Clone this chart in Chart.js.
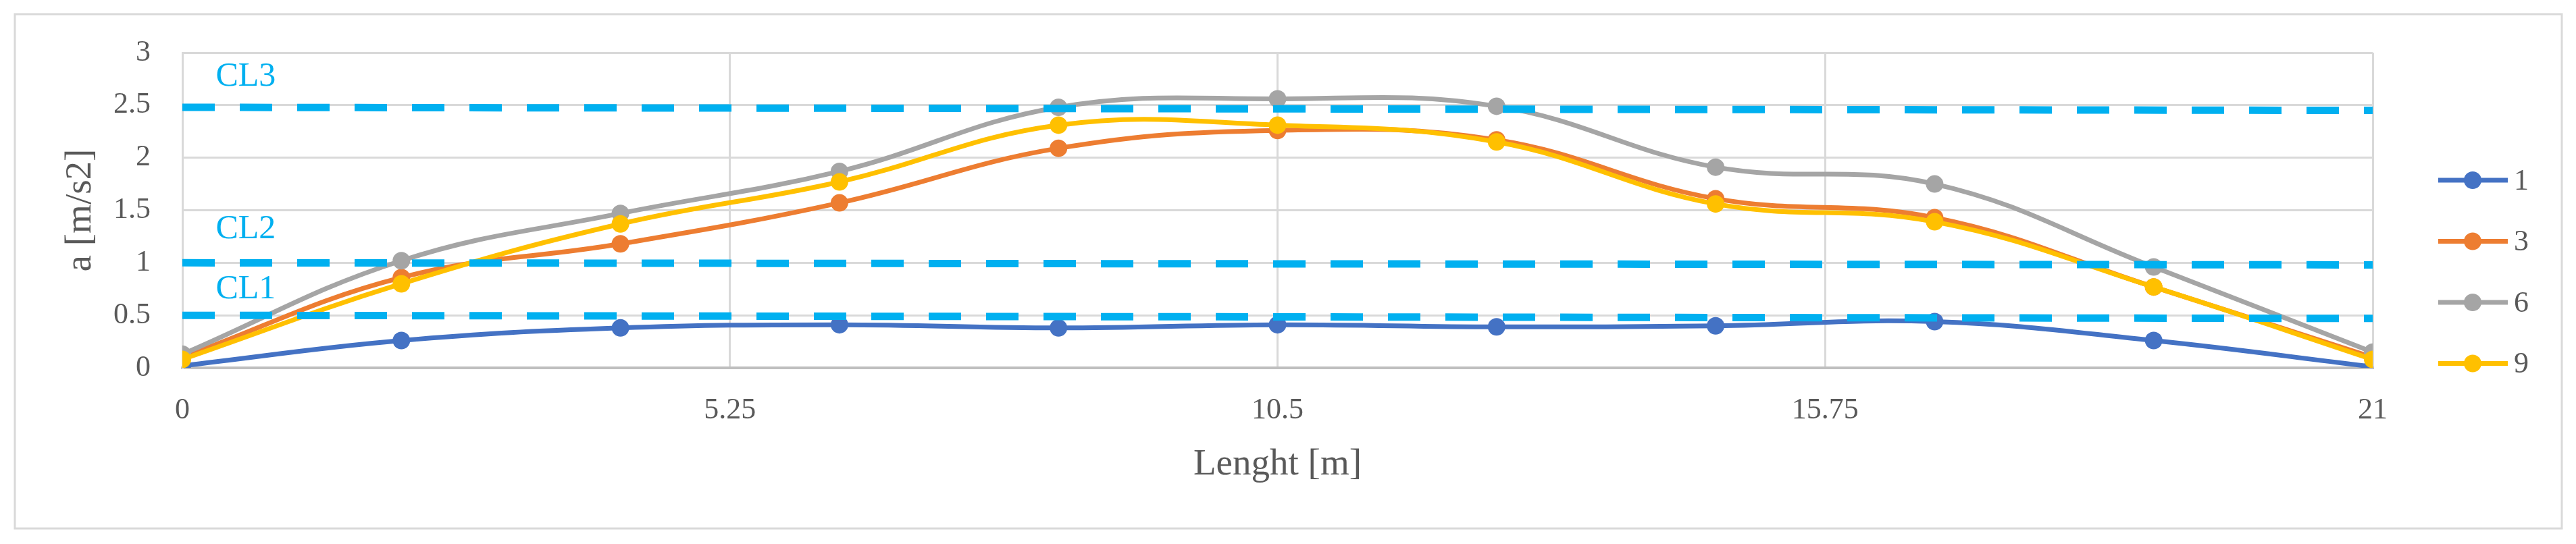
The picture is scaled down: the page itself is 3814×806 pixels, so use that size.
<!DOCTYPE html>
<html>
<head>
<meta charset="utf-8">
<title>a [m/s2] vs Lenght [m]</title>
<script src="https://cdn.jsdelivr.net/npm/chart.js@4/dist/chart.umd.min.js"></script>
<style>
    html, body { margin: 0; padding: 0; background: #ffffff; }
    canvas { display: block; }
</style>
</head>
<body>
<canvas id="chart" width="3814" height="806"></canvas>
<script>
// Measuring positions along the length [m]
const positions = [0, 2.1, 4.2, 6.3, 8.4, 10.5, 12.6, 14.7, 16.8, 18.9, 21];

// Acceleration a [m/s2] for each series
const series1 = [0.02, 0.26, 0.38, 0.41, 0.38, 0.41, 0.39, 0.40, 0.44, 0.26, 0.01];
const series3 = [0.10, 0.86, 1.18, 1.57, 2.09, 2.26, 2.17, 1.61, 1.43, 0.77, 0.10];
const series6 = [0.13, 1.02, 1.47, 1.87, 2.48, 2.56, 2.49, 1.91, 1.75, 0.96, 0.15];
const series9 = [0.08, 0.80, 1.37, 1.77, 2.31, 2.31, 2.15, 1.56, 1.39, 0.77, 0.08];

// Comfort level lines (value at start and end of the length)
const clNames = ['CL1', 'CL2', 'CL3'];
const clStart = [0.50, 1.00, 2.48];
const clEnd = [0.47, 0.98, 2.45];

// Axis ticks
const xTicks = [0, 5.25, 10.5, 15.75, 21];
const yTicks = [0, 0.5, 1, 1.5, 2, 2.5, 3];

const seriesNames = ['1', '3', '6', '9'];
const seriesValues = [series1, series3, series6, series9];
const seriesColors = ['#4472C4', '#ED7D31', '#A5A5A5', '#FFC000'];
const clColor = '#00B0F0';
const textColor = '#595959';
const serif = '"Liberation Serif", "DejaVu Serif", serif';

function toPoints(values) {
    return values.map((v, i) => ({ x: positions[i], y: v }));
}

// plain number labels (5.25 stays 5.25, 3 stays 3)
function plainLabel(value) {
    return String(parseFloat(Number(value).toFixed(2)));
}

const datasets = [];
seriesValues.forEach((values, i) => {
    datasets.push({
        label: seriesNames[i],
        data: toPoints(values),
        showLine: true,
        borderColor: seriesColors[i],
        backgroundColor: seriesColors[i],
        borderWidth: 7,
        pointRadius: 13,
        pointBorderWidth: 0,
        tension: 0.4,
        order: seriesValues.length - i
    });
});
clNames.forEach((name, i) => {
    datasets.push({
        label: name,
        data: [{ x: 0, y: clStart[i] }, { x: 21, y: clEnd[i] }],
        showLine: true,
        borderColor: clColor,
        backgroundColor: clColor,
        borderWidth: 11,
        borderDash: [48, 37],
        borderCapStyle: 'butt',
        pointRadius: 0,
        tension: 0,
        order: 0
    });
});

// white background + light frame around the whole chart
const framePlugin = {
    id: 'frame',
    beforeDraw(chart) {
        const ctx = chart.ctx;
        ctx.save();
        ctx.fillStyle = '#ffffff';
        ctx.fillRect(0, 0, chart.width, chart.height);
        ctx.strokeStyle = '#D9D9D9';
        ctx.lineWidth = 3;
        ctx.strokeRect(22, 21, 3771, 762);
        ctx.restore();
    }
};

// y axis title, placed close to the tick labels like the original
const yTitlePlugin = {
    id: 'yTitle',
    afterDraw(chart) {
        const { ctx, chartArea } = chart;
        ctx.save();
        ctx.translate(120, (chartArea.top + chartArea.bottom) / 2);
        ctx.rotate(-Math.PI / 2);
        ctx.font = '55px ' + serif;
        ctx.fillStyle = textColor;
        ctx.textAlign = 'center';
        ctx.textBaseline = 'middle';
        ctx.fillText('a [m/s2]', 0, 0);
        ctx.restore();
    }
};

// CL1..CL3 text labels above their dashed lines
const clLabelPlugin = {
    id: 'clLabels',
    afterDatasetsDraw(chart) {
        const { ctx, scales: { x, y } } = chart;
        const labelY = [0.745, 1.32, 2.77];
        ctx.save();
        ctx.font = '50px ' + serif;
        ctx.fillStyle = clColor;
        ctx.textAlign = 'left';
        ctx.textBaseline = 'middle';
        clNames.forEach((name, i) => {
            ctx.fillText(name, x.getPixelForValue(0.32), y.getPixelForValue(labelY[i]));
        });
        ctx.restore();
    }
};

// legend on the right: line with a marker in the middle
const legendPlugin = {
    id: 'lineMarkerLegend',
    afterDraw(chart) {
        const ctx = chart.ctx;
        ctx.save();
        seriesNames.forEach((name, i) => {
            const cy = 267 + i * 90.5;
            ctx.strokeStyle = seriesColors[i];
            ctx.lineWidth = 7;
            ctx.beginPath();
            ctx.moveTo(3610, cy);
            ctx.lineTo(3713, cy);
            ctx.stroke();
            ctx.fillStyle = seriesColors[i];
            ctx.beginPath();
            ctx.arc(3661, cy, 13, 0, Math.PI * 2);
            ctx.fill();
            ctx.fillStyle = textColor;
            ctx.font = '44px ' + serif;
            ctx.textAlign = 'left';
            ctx.textBaseline = 'middle';
            ctx.fillText(name, 3722, cy + 2);
        });
        ctx.restore();
    }
};

new Chart(document.getElementById('chart').getContext('2d'), {
    type: 'scatter',
    data: { datasets: datasets },
    options: {
        responsive: false,
        animation: false,
        devicePixelRatio: 1,
        layout: { padding: { left: 0, right: 301, top: 78, bottom: 0 } },
        plugins: {
            legend: { display: false },
            tooltip: { enabled: false }
        },
        scales: {
            x: {
                type: 'linear',
                min: 0,
                max: 21,
                afterBuildTicks: (scale) => { scale.ticks = xTicks.map(v => ({ value: v })); },
                afterFit: (scale) => { scale.height = 261; },
                ticks: {
                    color: textColor,
                    font: { family: serif, size: 44 },
                    padding: 37,
                    maxRotation: 0,
                    autoSkip: false,
                    callback: plainLabel
                },
                grid: { color: '#D9D9D9', lineWidth: 3, drawTicks: false },
                border: { color: '#BFBFBF', width: 4 },
                title: {
                    display: true,
                    text: 'Lenght [m]',
                    color: textColor,
                    font: { family: serif, size: 55 },
                    padding: { top: 0, bottom: 84 }
                }
            },
            y: {
                min: 0,
                max: 3,
                afterBuildTicks: (scale) => { scale.ticks = yTicks.map(v => ({ value: v })); },
                afterFit: (scale) => { scale.width = 270; },
                ticks: {
                    color: textColor,
                    font: { family: serif, size: 44 },
                    padding: 47,
                    callback: plainLabel
                },
                grid: { color: '#D9D9D9', lineWidth: 3, drawTicks: false },
                border: { color: '#D9D9D9', width: 3 },
                title: { display: false }
            }
        }
    },
    plugins: [framePlugin, yTitlePlugin, clLabelPlugin, legendPlugin]
});
</script>
</body>
</html>
